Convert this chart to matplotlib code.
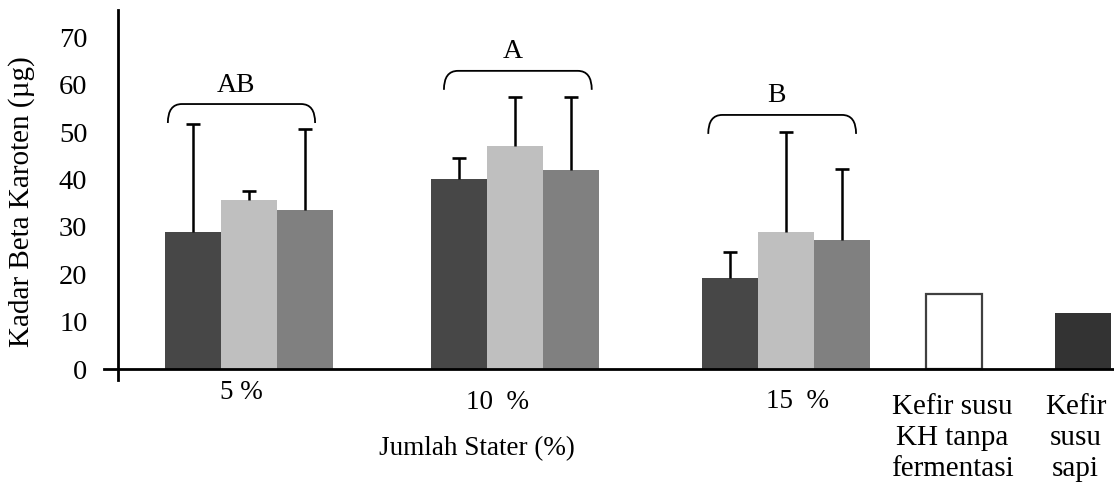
import numpy as np
import matplotlib.pyplot as plt
from matplotlib.path import Path
from matplotlib.patches import PathPatch

plt.rcParams['font.family'] = ['Liberation Serif', 'DejaVu Serif']

# data
# ------------------------------------------------------
kelompok = ['5 %', '10  %', '15  %']
seri1 = np.array([28.9, 40.1, 19.2])      # dark
seri2 = np.array([35.6, 47.0, 28.9])      # light
seri3 = np.array([33.5, 42.0, 27.2])      # medium
err1 = np.array([22.8, 4.4, 5.5])
err2 = np.array([1.9, 10.3, 21.1])
err3 = np.array([17.1, 15.3, 15.0])
huruf = ['AB', 'A', 'B']

kontrol = ['Kefir susu\nKH tanpa\nfermentasi', 'Kefir\nsusu\nsapi']
nilaiKontrol = np.array([15.8, 11.8])

# layout (bar width = 1 unit)
posGrup = np.array([2.34, 7.09, 11.93])
posKontrol = np.array([14.93, 17.23])
lebar = 1.0

warna = ['#474747', '#bfbfbf', '#808080']

fig = plt.figure(figsize=(11.14, 4.86), dpi=100)
ax = fig.add_axes([118/1114, (486-380)/486, (1114-118)/1114, 370/486])
ax.set_xlim(0, (1114-118)/56.0)
ax.set_ylim(-11/4.74, 359/4.74)

for k, (nilai, err) in enumerate([(seri1, err1), (seri2, err2), (seri3, err3)]):
    x = posGrup + (k-1)*lebar
    ax.bar(x, nilai, width=lebar, color=warna[k], zorder=2)
    # upper error bar only
    ax.vlines(x, nilai, nilai + err, color='black', lw=1.8, zorder=3)
    ax.plot(x, nilai + err, ls='none', marker='_', markersize=9.5,
            mew=1.9, color='black', zorder=3)

ax.bar(posKontrol[0], nilaiKontrol[0], width=lebar, color='white',
       edgecolor='#404040', linewidth=1.6, zorder=2)
ax.bar(posKontrol[1], nilaiKontrol[1], width=lebar, color='#333333', zorder=2)

# brackets with letters
kurung = [(0.89, 3.52, 55.9), (5.82, 8.46, 62.9), (10.54, 13.18, 53.6)]
for (x0, x1, yt), h in zip(kurung, huruf):
    yb = yt - 4.0
    r = 0.25
    verts = [(x0, yb), (x0, yt), (x0+r, yt), (x1-r, yt), (x1, yt), (x1, yb)]
    codes = [Path.MOVETO, Path.CURVE3, Path.CURVE3, Path.LINETO,
             Path.CURVE3, Path.CURVE3]
    ax.add_patch(PathPatch(Path(verts, codes), fill=False, lw=1.3,
                           edgecolor='black', zorder=3))
    ax.text((x0+x1)/2 - 0.1, yt + 4.0, h, ha='center', va='center', fontsize=20)

# axes
for s in ['top', 'right', 'bottom']:
    ax.spines[s].set_visible(False)
ax.spines['left'].set_linewidth(2)
ax.plot([-14/56.0, ax.get_xlim()[1]], [0, 0], color='black', lw=2,
        clip_on=False, zorder=4)
ax.set_yticks(np.arange(0, 80, 10))
ax.tick_params(axis='y', length=0, pad=22, labelsize=20.5)
ax.set_xticks([])

# category labels
yLabel = [-5.06, -7.0, -6.96]
xGeser = [-0.13, -0.32, 0.2]
for x, lab, y, dx in zip(posGrup, kelompok, yLabel, xGeser):
    ax.text(x + dx, y, lab, ha='center', va='center', fontsize=19.5)
for x, lab in zip([14.9, 17.1], kontrol):
    ax.text(x, -14.6, lab, ha='center', va='center', fontsize=21,
            linespacing=1.25, clip_on=False)

ax.text(6.41, -16.7, 'Jumlah Stater (%)', ha='center', va='center',
        fontsize=19.5)
fig.text(22/1114, 1 - 202/486, 'Kadar Beta Karoten (µg)', rotation=90,
         ha='center', va='center', fontsize=21)

fig.savefig('out.png', dpi=100)
